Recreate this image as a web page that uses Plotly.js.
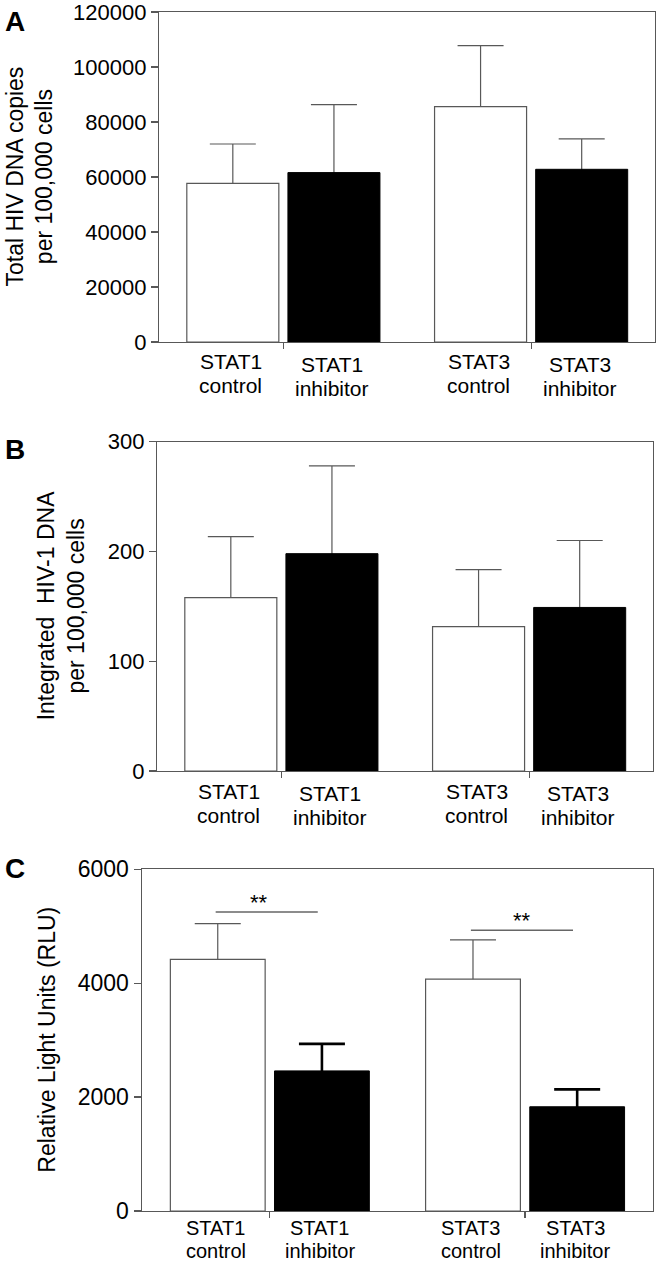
<!DOCTYPE html>
<html><head><meta charset="utf-8">
<script src="https://cdn.plot.ly/plotly-3.0.1.min.js"></script>
<style>html,body{margin:0;padding:0;background:#fff}#chart{width:660px;height:1265px}</style>
</head><body><div id="chart"></div>
<script>
// ---------- data ----------
const groupLabels = ['STAT1', 'STAT1', 'STAT3', 'STAT3'];
const treatmentLabels = ['control', 'inhibitor', 'control', 'inhibitor'];
const isInhibitor = [false, true, false, true];

// Panel A: total HIV DNA copies per 100,000 cells
const totalDnaMean = [57700, 61600, 85600, 62800];
const totalDnaErr = [14300, 24700, 22200, 11100];
// Panel B: integrated HIV-1 DNA per 100,000 cells
const integratedMean = [158, 198, 131.5, 149];
const integratedErr = [55.5, 80, 52, 61];
// Panel C: relative light units
const rluMean = [4420, 2460, 4070, 1830];
const rluErr = [625, 475, 690, 305];
const sigPairs = [[0, 1], [2, 3]];
const sigY = [5250, 4930];
const sigText = ['**', '**'];

const yTicksA = [0, 20000, 40000, 60000, 80000, 100000, 120000];
const yTicksB = [0, 100, 200, 300];
const yTicksC = [0, 2000, 4000, 6000];
const panelLetters = ['A', 'B', 'C'];
const yTitles = ['Total HIV DNA copies<br>per 100,000 cells',
                 'Integrated  HIV-1 DNA<br>per 100,000 cells',
                 'Relative Light Units (RLU)'];

// ---------- layout constants ----------
const W = 660, H = 1265;
const FONT = '"Liberation Sans", Arial, Helvetica, sans-serif';
const AXC = '#585858';
const xPos = [0, 1, 2.45, 3.45];
const xRange = [-0.73, 4.175];
const barW = 0.91;
const px = v => v / W;
const py = v => 1 - v / H;

const panels = [
  {mean: totalDnaMean, err: totalDnaErr, ticks: yTicksA, range: [0, 120000],
   box: [159, 655, 12, 342], tickSize: 22, title: yTitles[0], titleX: 29.5,
   letterY: 4, inhErr: {color: AXC, thickness: 1.2},
   lab: {size: 21, s1: -6, s2: -30, inh: -3}},
  {mean: integratedMean, err: integratedErr, ticks: yTicksB, range: [0, 300],
   box: [157, 653, 441.7, 771], tickSize: 22, title: yTitles[1], titleX: 61,
   letterY: 432, inhErr: {color: AXC, thickness: 1.2},
   lab: {size: 21, s1: -7, s2: -31, inh: -2}},
  {mean: rluMean, err: rluErr, ticks: yTicksC, range: [0, 6000],
   box: [141.7, 652.7, 869.3, 1211], tickSize: 23, title: yTitles[2], titleX: 47.5,
   letterY: 851, inhErr: {color: '#000', thickness: 2.6},
   lab: {size: 20, s1: -4, s2: -27, inh: 0}}
];

const traces = [];
const layout = {
  width: W, height: H, margin: {l: 0, r: 0, t: 0, b: 0},
  paper_bgcolor: '#fff', plot_bgcolor: '#fff',
  showlegend: false, barmode: 'overlay',
  font: {family: FONT, color: '#000'},
  annotations: [], shapes: []
};

panels.forEach((p, k) => {
  const sfx = k === 0 ? '' : String(k + 1);
  const xa = 'x' + sfx, ya = 'y' + sfx;
  const idxC = [0, 1, 2, 3].filter(i => !isInhibitor[i]);
  const idxI = [0, 1, 2, 3].filter(i => isInhibitor[i]);
  const pick = (arr, idx) => idx.map(i => arr[i]);

  // error bars first (transparent bars, lower end hidden under the solid bars drawn next)
  [[idxC, {color: AXC, thickness: 1.2}], [idxI, p.inhErr]].forEach(([idx, st]) => {
    traces.push({
      type: 'bar', xaxis: xa, yaxis: ya,
      x: pick(xPos, idx), y: pick(p.mean, idx), width: barW,
      marker: {color: 'rgba(0,0,0,0)', line: {width: 0}},
      error_y: {type: 'data', symmetric: false, array: pick(p.err, idx),
                arrayminus: pick(p.mean, idx), color: st.color,
                thickness: st.thickness, width: 23},
      cliponaxis: true, hoverinfo: 'skip'
    });
  });
  // visible bars
  traces.push({
    type: 'bar', xaxis: xa, yaxis: ya, name: 'control',
    x: pick(xPos, idxC), y: pick(p.mean, idxC), width: barW,
    marker: {color: '#ffffff', line: {color: AXC, width: 1.2}}
  });
  traces.push({
    type: 'bar', xaxis: xa, yaxis: ya, name: 'inhibitor',
    x: pick(xPos, idxI), y: pick(p.mean, idxI), width: barW,
    marker: {color: '#000000', line: {color: '#000', width: 1}}
  });

  const [l, r, t, b] = p.box;
  layout['xaxis' + sfx] = {
    domain: [px(l), px(r)], range: xRange, anchor: ya,
    showgrid: false, zeroline: false, showline: true, mirror: true,
    linecolor: AXC, linewidth: 1.2,
    tickmode: 'array', tickvals: [(xPos[0] + xPos[1]) / 2, (xPos[2] + xPos[3]) / 2],
    ticktext: ['', ''], ticks: 'outside', ticklen: 6, tickcolor: AXC, tickwidth: 1.2,
    showticklabels: false, fixedrange: true
  };
  layout['yaxis' + sfx] = {
    domain: [py(b), py(t)], range: p.range, anchor: xa,
    showgrid: false, zeroline: false, showline: true, mirror: true,
    linecolor: AXC, linewidth: 1.2,
    tickmode: 'array', tickvals: p.ticks, tickformat: 'd',
    ticks: 'outside', ticklen: 7, tickcolor: AXC, tickwidth: 1.2,
    ticklabeloverflow: 'allow',
    tickfont: {family: FONT, size: p.tickSize, color: '#000'}, fixedrange: true
  };

  // category labels (two lines each)
  for (let i = 0; i < 4; i++) {
    const extra = isInhibitor[i] ? p.lab.inh : 0;
    layout.annotations.push({
      xref: xa, yref: ya + ' domain', x: xPos[i], y: 0, xanchor: 'center', yanchor: 'top',
      yshift: p.lab.s1 + extra, xshift: -2, showarrow: false, text: groupLabels[i],
      font: {family: FONT, size: p.lab.size, color: '#000'}
    });
    layout.annotations.push({
      xref: xa, yref: ya + ' domain', x: xPos[i], y: 0, xanchor: 'center', yanchor: 'top',
      yshift: p.lab.s2 + extra, xshift: -2, showarrow: false, text: treatmentLabels[i],
      font: {family: FONT, size: p.lab.size, color: '#000'}
    });
  }
  // y-axis title
  layout.annotations.push({
    xref: 'paper', yref: ya + ' domain', x: px(p.titleX), y: 0.5,
    xanchor: 'center', yanchor: 'middle', textangle: -90, showarrow: false,
    text: p.title, font: {family: FONT, size: 23, color: '#000'}
  });
  // panel letter
  layout.annotations.push({
    xref: 'paper', yref: 'paper', x: px(15), y: py(p.letterY),
    xanchor: 'center', yanchor: 'top', showarrow: false,
    text: '<b>' + panelLetters[k] + '</b>', font: {family: FONT, size: 28, color: '#000'}
  });
});

// significance markers on panel C
sigPairs.forEach(([a, b], j) => {
  const x0 = xPos[a] - 0.02, x1 = xPos[b] - 0.04;
  layout.shapes.push({type: 'line', xref: 'x3', yref: 'y3', x0: x0, x1: x1,
    y0: sigY[j], y1: sigY[j], line: {color: '#666', width: 1.5}});
  layout.annotations.push({xref: 'x3', yref: 'y3', x: (x0 + x1) / 2, y: sigY[j],
    xanchor: 'center', yanchor: 'bottom', yshift: -5, xshift: j === 0 ? -8 : 0,
    showarrow: false, text: sigText[j], font: {family: FONT, size: 22, color: '#000'}});
});

Plotly.newPlot('chart', traces, layout, {staticPlot: true, displayModeBar: false});
</script>
</body></html>
